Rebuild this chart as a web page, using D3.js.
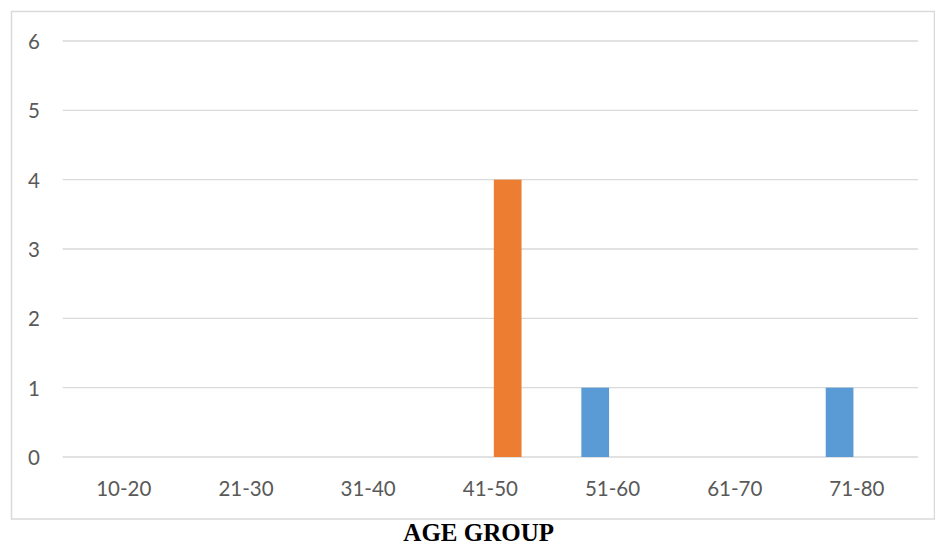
<!DOCTYPE html>
<html>
<head>
<meta charset="utf-8">
<script src="https://cdn.jsdelivr.net/npm/d3@7"></script>
<style>
  html, body { margin: 0; padding: 0; background: #ffffff; }
  svg { display: block; }
</style>
</head>
<body>
<svg id="chart" width="935" height="545"></svg>
<script>
const categories = ["10-20", "21-30", "31-40", "41-50", "51-60", "61-70", "71-80"];
const seriesNames = ["Series1", "Series2"];
const series1Values = [0, 0, 0, 0, 1, 0, 1];
const series2Values = [0, 0, 0, 4, 0, 0, 0];
const seriesColors = ["#5b9bd5", "#ed7d31"];
const yTicks = [0, 1, 2, 3, 4, 5, 6];
const xTitle = "AGE GROUP";

const svg = d3.select("#chart");
const plot = { left: 62.7, right: 918, top: 41, bottom: 457 };

// chart border
svg.append("rect")
  .attr("x", 11.5).attr("y", 11.5)
  .attr("width", 923).attr("height", 507.5)
  .attr("fill", "none").attr("stroke", "#d9d9d9").attr("stroke-width", 1.5);

const y = d3.scaleLinear().domain([0, 6]).range([plot.bottom, plot.top]);
const x0 = d3.scaleBand().domain(categories).range([plot.left, plot.right]).paddingInner(0).paddingOuter(0);
const bw = x0.bandwidth();
const x1 = d3.scaleBand().domain(seriesNames)
  .range([bw / 2 - 31.2, bw / 2 + 31.2]).paddingInner(0.2).paddingOuter(0);

// gridlines
svg.append("g").selectAll("line").data(yTicks).join("line")
  .attr("x1", plot.left).attr("x2", plot.right)
  .attr("y1", d => y(d)).attr("y2", d => y(d))
  .attr("stroke", "#d9d9d9").attr("stroke-width", 1.4);

// y tick labels
const yAxis = d3.axisLeft(y).tickValues(yTicks).tickFormat(d3.format("d")).tickSize(0).tickPadding(0);
const gy = svg.append("g").attr("transform", `translate(40,0)`).call(yAxis);
gy.select(".domain").remove();
gy.selectAll("text")
  .attr("font-family", "Lato, 'Open Sans', sans-serif")
  .attr("font-size", "20.5px")
  .attr("fill", "#595959")
  .attr("dy", "0.36em");

// x tick labels
const xAxis = d3.axisBottom(x0).tickSize(0).tickPadding(0);
const gx = svg.append("g").attr("transform", `translate(0,496)`).call(xAxis);
gx.select(".domain").remove();
gx.selectAll("text")
  .attr("font-family", "Lato, 'Open Sans', sans-serif")
  .attr("font-size", "20.5px")
  .attr("fill", "#595959")
  .attr("dy", "0");

// bars
const data = categories.map((c, i) => ({ cat: c, values: [series1Values[i], series2Values[i]] }));
const groups = svg.append("g").selectAll("g").data(data).join("g")
  .attr("transform", d => `translate(${x0(d.cat)},0)`);
groups.selectAll("rect")
  .data(d => d.values.map((v, j) => ({ name: seriesNames[j], v, j })).filter(e => e.v > 0))
  .join("rect")
  .attr("x", e => x1(e.name))
  .attr("width", x1.bandwidth())
  .attr("y", e => y(e.v))
  .attr("height", e => y(0) - y(e.v))
  .attr("fill", e => seriesColors[e.j]);

// x title
svg.append("text")
  .attr("x", 478.7).attr("y", 541)
  .attr("text-anchor", "middle")
  .attr("font-family", "'Liberation Serif', 'Times New Roman', serif")
  .attr("font-weight", "bold")
  .attr("font-size", "25px")
  .attr("fill", "#000000")
  .text(xTitle);
</script>
</body>
</html>
